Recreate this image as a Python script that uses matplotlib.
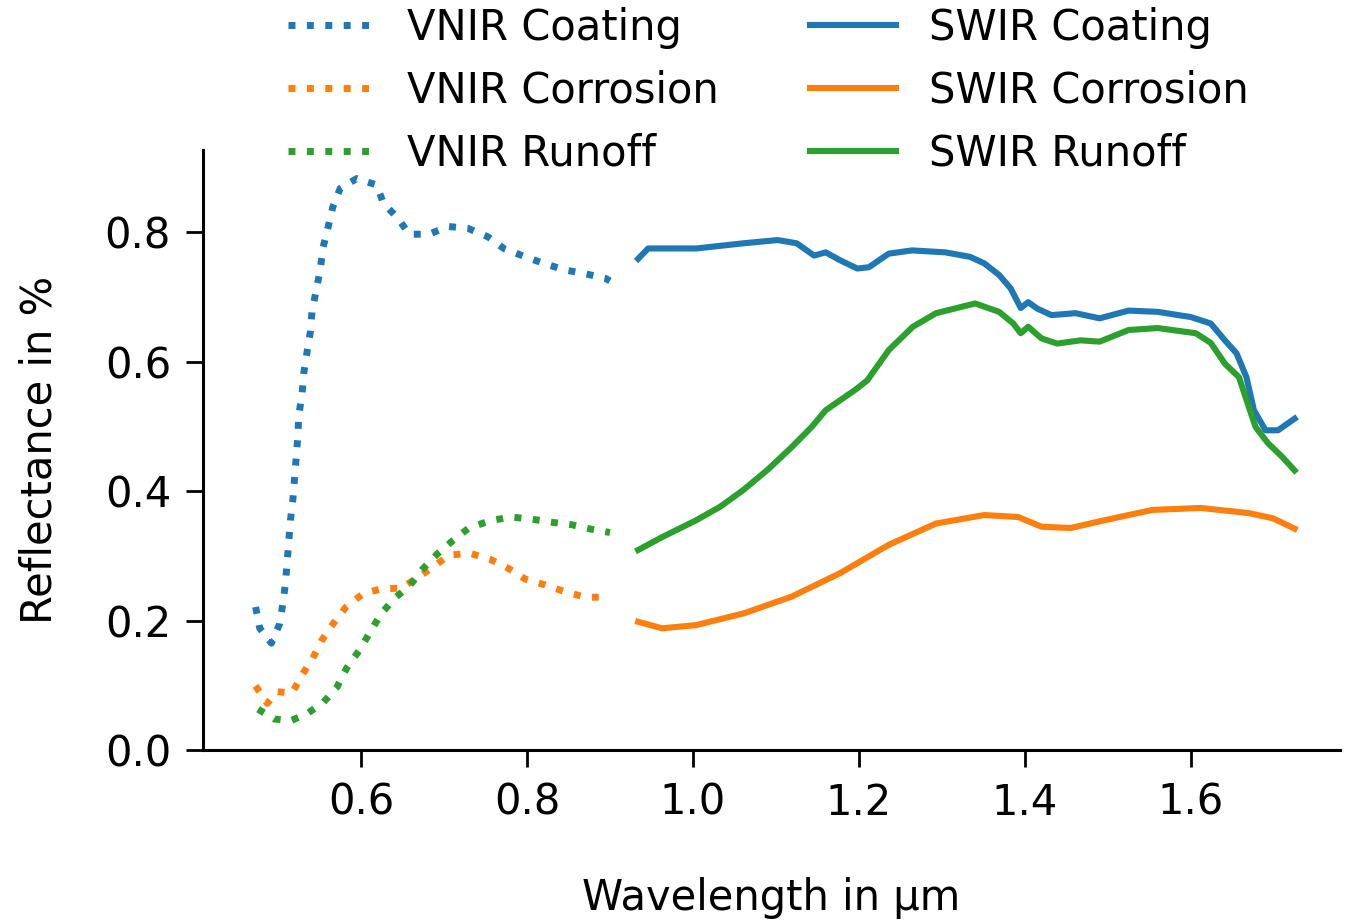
import matplotlib
matplotlib.use("Agg")
import matplotlib.pyplot as plt

# wavelength (um) and reflectance
vnir_coating_x = [0.473, 0.478, 0.492, 0.502, 0.506, 0.509, 0.511, 0.513, 0.515, 0.518, 0.524,
                  0.525, 0.529, 0.531, 0.535, 0.539, 0.541, 0.546, 0.551, 0.554, 0.560, 0.566,
                  0.575, 0.595, 0.619, 0.627, 0.645, 0.658, 0.682, 0.705, 0.729, 0.753, 0.772,
                  0.796, 0.820, 0.845, 0.870, 0.894, 0.900]
vnir_coating_y = [0.221, 0.188, 0.165, 0.195, 0.227, 0.258, 0.290, 0.323, 0.355, 0.388, 0.486,
                  0.517, 0.550, 0.582, 0.615, 0.646, 0.678, 0.710, 0.743, 0.775, 0.806, 0.839,
                  0.868, 0.883, 0.873, 0.845, 0.821, 0.797, 0.797, 0.809, 0.806, 0.793, 0.775,
                  0.763, 0.752, 0.742, 0.736, 0.729, 0.725]

vnir_corrosion_x = [0.473, 0.487, 0.499, 0.517, 0.529, 0.542, 0.553, 0.567, 0.582, 0.602, 0.624,
                    0.648, 0.668, 0.687, 0.706, 0.731, 0.755, 0.777, 0.798, 0.822, 0.847, 0.871,
                    0.895, 0.900]
vnir_corrosion_y = [0.099, 0.072, 0.090, 0.088, 0.116, 0.142, 0.170, 0.196, 0.221, 0.241, 0.249,
                    0.250, 0.266, 0.283, 0.301, 0.304, 0.295, 0.281, 0.264, 0.255, 0.244, 0.236,
                    0.236, 0.236]

vnir_runoff_x = [0.476, 0.495, 0.515, 0.535, 0.555, 0.571, 0.583, 0.598, 0.611, 0.624, 0.641,
                 0.658, 0.674, 0.692, 0.711, 0.730, 0.755, 0.780, 0.804, 0.829, 0.854, 0.878, 0.900]
vnir_runoff_y = [0.063, 0.048, 0.045, 0.056, 0.074, 0.097, 0.127, 0.154, 0.182, 0.210, 0.235,
                 0.253, 0.279, 0.303, 0.324, 0.343, 0.354, 0.360, 0.357, 0.352, 0.348, 0.341, 0.336]

swir_coating_x = [0.934, 0.946, 1.004, 1.061, 1.102, 1.125, 1.146, 1.160, 1.177, 1.198, 1.212,
                  1.236, 1.264, 1.304, 1.334, 1.351, 1.369, 1.383, 1.395, 1.404, 1.415, 1.432,
                  1.461, 1.490, 1.525, 1.560, 1.600, 1.624, 1.641, 1.655, 1.667, 1.676, 1.690,
                  1.705, 1.725]
swir_coating_y = [0.759, 0.775, 0.775, 0.783, 0.788, 0.783, 0.764, 0.769, 0.757, 0.744, 0.746,
                  0.767, 0.772, 0.769, 0.762, 0.752, 0.734, 0.713, 0.683, 0.692, 0.682, 0.672,
                  0.675, 0.667, 0.679, 0.677, 0.669, 0.659, 0.633, 0.613, 0.576, 0.525, 0.494,
                  0.494, 0.512]

swir_corrosion_x = [0.934, 0.963, 1.004, 1.061, 1.119, 1.177, 1.236, 1.293, 1.351, 1.392, 1.420,
                    1.455, 1.496, 1.554, 1.612, 1.670, 1.699, 1.725]
swir_corrosion_y = [0.198, 0.188, 0.193, 0.211, 0.237, 0.273, 0.317, 0.350, 0.363, 0.360, 0.345,
                    0.343, 0.355, 0.371, 0.374, 0.366, 0.358, 0.342]

swir_runoff_x = [0.934, 0.963, 1.004, 1.033, 1.061, 1.090, 1.119, 1.143, 1.160, 1.195, 1.210,
                 1.236, 1.265, 1.293, 1.340, 1.369, 1.386, 1.395, 1.404, 1.420, 1.439, 1.467,
                 1.490, 1.525, 1.560, 1.606, 1.624, 1.641, 1.658, 1.667, 1.678, 1.693, 1.710, 1.725]
swir_runoff_y = [0.309, 0.329, 0.355, 0.376, 0.402, 0.433, 0.468, 0.499, 0.525, 0.556, 0.571,
                 0.618, 0.654, 0.675, 0.690, 0.677, 0.659, 0.644, 0.654, 0.636, 0.628, 0.633,
                 0.631, 0.649, 0.652, 0.644, 0.629, 0.597, 0.576, 0.541, 0.499, 0.474, 0.453, 0.432]

plt.rcParams['font.family'] = ['DejaVu Sans']
plt.rcParams['font.size'] = 15

fig = plt.figure(figsize=(6.775, 4.61), dpi=200)
ax = fig.add_axes([0.1498, 0.1866, 0.839, 0.6506])

lw_dot = 2.5
lw_solid = 2.2
ax.plot(vnir_coating_x, vnir_coating_y, ':', color='tab:blue', lw=lw_dot, label='VNIR Coating')
ax.plot(vnir_corrosion_x, vnir_corrosion_y, ':', color='tab:orange', lw=lw_dot, label='VNIR Corrosion')
ax.plot(vnir_runoff_x, vnir_runoff_y, ':', color='tab:green', lw=lw_dot, label='VNIR Runoff')
ax.plot(swir_coating_x, swir_coating_y, '-', color='tab:blue', lw=lw_solid, label='SWIR Coating')
ax.plot(swir_corrosion_x, swir_corrosion_y, '-', color='tab:orange', lw=lw_solid, label='SWIR Corrosion')
ax.plot(swir_runoff_x, swir_runoff_y, '-', color='tab:green', lw=lw_solid, label='SWIR Runoff')

ax.set_xlim(0.4096, 1.7795)
ax.set_ylim(0, 0.927)
ax.set_xticks([0.6, 0.8, 1.0, 1.2, 1.4, 1.6])
ax.set_yticks([0.0, 0.2, 0.4, 0.6, 0.8])

for s in ['top', 'right']:
    ax.spines[s].set_visible(False)
for s in ['left', 'bottom']:
    ax.spines[s].set_linewidth(1.1)
ax.tick_params(direction='out', length=6, width=1.0, pad=5.5)

ax.set_xlabel('Wavelength in µm', labelpad=19)
ax.set_ylabel('Reflectance in %', labelpad=16)

fig.legend(loc='upper center', bbox_to_anchor=(0.567, 1.033), ncol=2, frameon=False,
           handlelength=2.05, handletextpad=0.8, columnspacing=2.2, labelspacing=0.5)

fig.savefig('out.png', dpi=200)
